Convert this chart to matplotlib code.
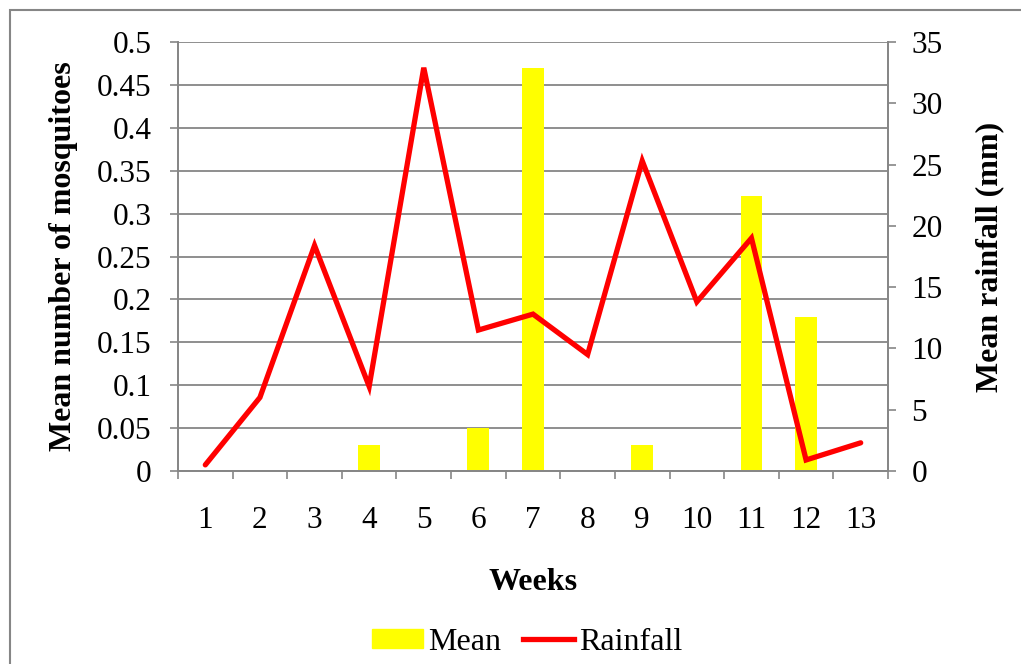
import matplotlib

matplotlib.use("Agg")

import matplotlib.pyplot as plt
import numpy as np
from matplotlib.lines import Line2D
from matplotlib.patches import Patch, Rectangle

# Weekly mosquito catch (bars, left axis) and rainfall (line, right axis)
weeks = [1, 2, 3, 4, 5, 6, 7, 8, 9, 10, 11, 12, 13]
mean_mosquitoes = [0, 0, 0, 0.03, 0, 0.05, 0.47, 0, 0.03, 0, 0.32, 0.18, 0]
rainfall_mm = [0.5, 6.0, 18.4, 6.9, 32.9, 11.5, 12.8, 9.5, 25.3, 13.8, 19.0, 0.9, 2.3]

GRAY = "#868686"
FS = 22.5
plt.rcParams["font.family"] = ["Liberation Serif", "DejaVu Serif"]

W, H = 1021, 664
fig = plt.figure(figsize=(W / 100, H / 100), dpi=100)
ax = fig.add_axes([178 / W, 1 - 471 / H, 710 / W, 429 / H])
ax2 = ax.twinx()

x = np.arange(len(weeks))
ax.bar(x, mean_mosquitoes, 0.4, color="#FFFF00", zorder=2)
ax2.plot(x, rainfall_mm, color="#FF0000", linewidth=3.8,
         solid_capstyle="round", solid_joinstyle="miter")

ax.set_xlim(-0.5, len(weeks) - 0.5)
ax.set_ylim(0, 0.5)
ax2.set_ylim(0, 35)
ax.set_yticks(np.arange(0, 0.501, 0.05))
ax.set_yticklabels(["0"] + [f"{v:g}" for v in np.arange(0.05, 0.501, 0.05)])
ax2.set_yticks(np.arange(0, 36, 5))

# category labels at centres, tick marks on the boundaries
ax.set_xticks(x)
ax.set_xticklabels([str(w) for w in weeks])
ax.set_xticks(np.arange(-0.5, len(weeks)), minor=True)
ax.tick_params(axis="x", which="major", length=0, pad=25, labelsize=FS)
ax.tick_params(axis="x", which="minor", length=6, width=1.2, color=GRAY)
ax.tick_params(axis="y", length=6, width=1.2, color=GRAY, pad=13, labelsize=FS)
ax2.tick_params(axis="y", length=6, width=1.2, color=GRAY, pad=11, labelsize=FS)

ax.grid(axis="y", color=GRAY, linewidth=1.3)
ax.set_axisbelow(True)
for a in (ax, ax2):
    a.spines["top"].set_visible(False)
    for s in ("left", "right", "bottom"):
        a.spines[s].set_color(GRAY)
        a.spines[s].set_linewidth(1.3)

ax.set_ylabel("Mean number of mosquitoes", fontsize=23, fontweight="bold", labelpad=14)
ax2.set_ylabel("Mean rainfall (mm)", fontsize=23, fontweight="bold", labelpad=23)
ax.set_xlabel("Weeks", fontsize=23, fontweight="bold", labelpad=24)

handles = [Patch(color="#FFFF00", label="Mean"),
           Line2D([], [], color="#FF0000", linewidth=3.8, label="Rainfall")]
fig.legend(handles=handles, loc="center", bbox_to_anchor=(527 / W, 1 - 642 / H),
           ncol=2, frameon=False, fontsize=23, handlelength=1.6, handleheight=0.55,
           handletextpad=0.15, columnspacing=0.7)

# outer chart border
fig.patches.append(Rectangle((10 / W, -0.2), 1.2, 1.2 - 10 / H, transform=fig.transFigure,
                             fill=False, edgecolor=GRAY, linewidth=1.5))

fig.savefig("out.png", dpi=100)
